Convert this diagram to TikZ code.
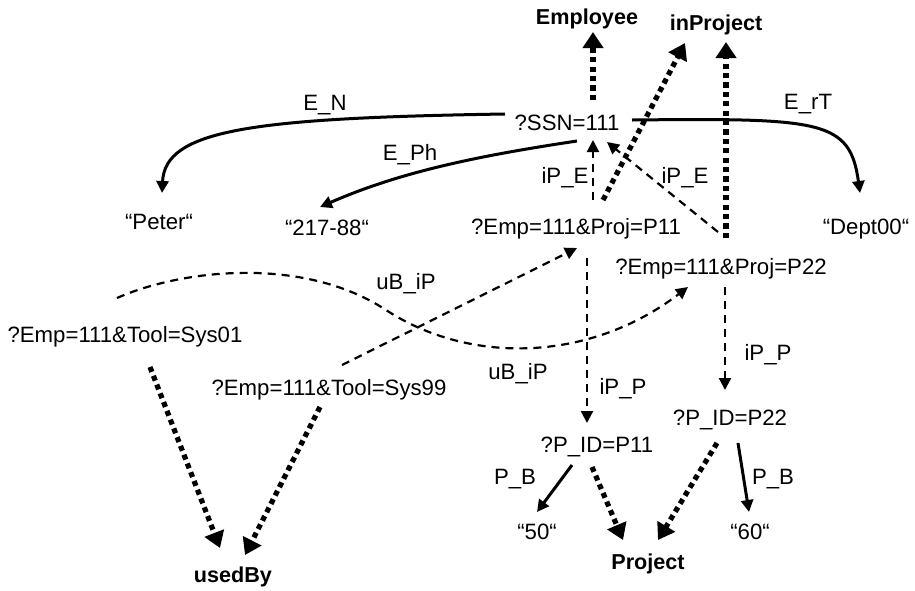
\documentclass[tikz,border=0pt]{standalone}
\usepackage{fontspec}
\setmainfont{Liberation Sans}
\usetikzlibrary{arrows.meta,calc}
\begin{document}
\begin{tikzpicture}[x=0.5pt,y=-0.5pt,
  every node/.style={font=\fontsize{11.1}{13}\selectfont, inner sep=0pt, text height=0.72em, text depth=0pt},
  cls/.style={font=\fontsize{10.8}{13}\selectfont\bfseries},
  typeof/.style={line width=2.6pt, dash pattern=on 2.6pt off 2.1pt, -{Triangle[length=8pt,width=10pt]}},
  link/.style={line width=1.1pt, dash pattern=on 4pt off 3pt, -{Triangle[length=6pt,width=6pt]}},
  attr/.style={line width=1.5pt, -{Triangle[length=6pt,width=6pt]}}]
\useasboundingbox (0,0) rectangle (915,590);

% class nodes
\node[cls] (employee) at (587,17) {Employee};
\node[cls] (inproject) at (716,23) {inProject};
\node[cls] (usedby) at (233,575) {usedBy};
\node[cls] (project) at (648,562) {Project};

% instance nodes
\node (ssn) at (567,123) {?SSN=111};
\node (peter) at (159,222) {“Peter“};
\node (phone) at (327,228) {“217-88“};
\node (dept) at (866,227) {“Dept00“};
\node (p11) at (576,227) {?Emp=111\&Proj=P11};
\node (p22) at (721,267) {?Emp=111\&Proj=P22};
\node (sys01) at (125,335) {?Emp=111\&Tool=Sys01};
\node (sys99) at (329,388) {?Emp=111\&Tool=Sys99};
\node (pid11) at (597,445) {?P\_ID=P11};
\node (pid22) at (730,418) {?P\_ID=P22};
\node (fifty) at (537,532) {“50“};
\node (sixty) at (750,532) {“60“};

% rdf:type links
\draw[typeof] ($(ssn)+(26,-23)$) -- ($(employee)+(6,15)$);
\draw[typeof] ($(p11)+(27,-27)$) -- ($(inproject)+(-31,20)$);
\draw[typeof] ($(p22)+(5,-29)$) -- ($(inproject)+(10,19)$);
\draw[typeof] ($(pid11)+(-5,22)$) -- ($(project)+(-25,-22)$);
\draw[typeof] ($(pid22)+(-13,25)$) -- ($(project)+(10,-22)$);
\draw[typeof] ($(sys01)+(25,32)$) -- ($(usedby)+(-13,-27)$);
\draw[typeof] ($(sys99)+(-9,19)$) -- ($(usedby)+(12,-20)$);

% attribute links
\draw[attr] ($(ssn)+(-62,-9)$) .. controls +(-255,4) and +(3,-63) .. ($(peter)+(3,-29)$);
\draw[attr] ($(ssn)+(10,18)$) .. controls +(-100,15) and +(80,-35) .. ($(phone)+(-7,-21)$);
\draw[attr] ($(ssn)+(65,-3)$) .. controls +(190,-2) and +(-10,-73) .. ($(dept)+(-6,-34)$);
\draw[attr] ($(pid11)+(-25,20)$) -- ($(fifty)+(0,-20)$);
\draw[attr] ($(pid22)+(8,25)$) -- ($(sixty)+(-1,-20)$);

% object links
\draw[link] ($(p11)+(17,-27)$) -- ($(ssn)+(26,17)$);
\draw[link] ($(p22)+(-3,-35)$) -- ($(ssn)+(40,19)$);
\draw[link] ($(p11)+(11,31)$) -- ($(pid11)+(-10,-22)$);
\draw[link] ($(p22)+(4,20)$) -- ($(pid22)+(-5,-28)$);
\coordinate (ubmid) at (386,310);
\draw[link] ($(sys01)+(-8,-37)$) .. controls (180,270) and (302,255) .. (ubmid)
  .. controls (470,365) and (590,362) .. ($(p22)+(-33,20)$);
\draw[link] ($(sys99)+(13,-23)$) -- ($(p11)+(1,21)$);

% edge labels
\node (lEN) at (325,103) {E\_N};
\node (lEPh) at (410,153) {E\_Ph};
\node (lErT) at (808,102) {E\_rT};
\node (liPE1) at (565,176) {iP\_E};
\node (liPE2) at (685,176) {iP\_E};
\node (luB1) at (406,282) {uB\_iP};
\node (luB2) at (518,372) {uB\_iP};
\node (liPP1) at (623,387) {iP\_P};
\node (liPP2) at (768,353) {iP\_P};
\node (lPB1) at (515,477) {P\_B};
\node (lPB2) at (773,477) {P\_B};
\end{tikzpicture}
\end{document}
